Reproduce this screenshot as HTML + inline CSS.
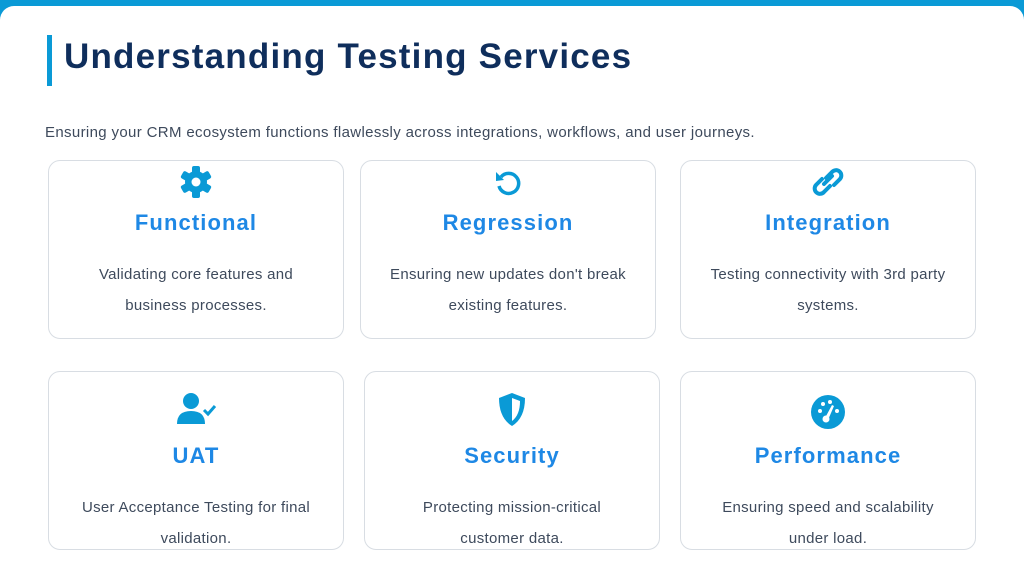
<!DOCTYPE html>
<html><head><style>
body{margin:0;width:1024px;height:576px;background:#0a9ad6;font-family:"Liberation Sans",sans-serif;overflow:hidden;position:relative}
.page{position:absolute;left:0;top:6px;width:1024px;height:570px;background:#fff;border-radius:14px 14px 0 0}
.bar{position:absolute;left:47px;top:29px;width:5px;height:51px;background:#0a9ad6}
h1{position:absolute;left:64px;top:31px;margin:0;font-size:35px;font-weight:bold;color:#0f2e5c;letter-spacing:1.2px}
.sub{position:absolute;left:45px;top:118px;font-size:15px;color:#3e4a5c;letter-spacing:0.35px}
.card{position:absolute;width:296px;height:179px;border:1px solid #d8dde3;border-radius:12px;background:#fff;text-align:center;box-sizing:border-box}
.card svg{position:absolute;left:50%;top:3px;transform:translateX(-50%)}
.t{position:absolute;left:0;right:0;top:49px;font-size:22px;font-weight:bold;color:#1e88e5;letter-spacing:1.1px}
.d{position:absolute;left:18px;right:18px;top:98px;font-size:15px;line-height:31px;color:#3e4a5c;letter-spacing:0.3px}
</style></head><body>
<div class="page">
<div class="bar"></div>
<h1>Understanding Testing Services</h1>
<div class="sub">Ensuring your CRM ecosystem functions flawlessly across integrations, workflows, and user journeys.</div>

<div class="card" style="left:48px;top:154px">
<svg width="36" height="36" viewBox="0 0 36 36"><g fill="#0a9ad6" transform="translate(18,18)"><circle r="11"/><rect x="-4" y="-16" width="8" height="32" rx="2"/><rect x="-4" y="-16" width="8" height="32" rx="2" transform="rotate(60)"/><rect x="-4" y="-16" width="8" height="32" rx="2" transform="rotate(120)"/></g><circle cx="18" cy="18" r="4.5" fill="#fff"/></svg>
<div class="t">Functional</div><div class="d">Validating core features and<br>business processes.</div></div>

<div class="card" style="left:360px;top:154px">
<svg width="36" height="36" viewBox="0 0 36 36"><path d="M11 13 A10 10 0 1 1 9 22" fill="none" stroke="#0a9ad6" stroke-width="3.5"/><path d="M6 8 L14 16 L6 17 Z" fill="#0a9ad6"/></svg>
<div class="t">Regression</div><div class="d">Ensuring new updates don't break<br>existing features.</div></div>

<div class="card" style="left:680px;top:154px">
<svg width="40" height="36" viewBox="0 0 40 36"><g fill="none" stroke="#0a9ad6" stroke-width="4" stroke-linecap="round"><path d="M18 14 L24 8 A5 5 0 0 1 32 15 L26 21"/><path d="M22 22 L16 28 A5 5 0 0 1 8 21 L14 15"/><path d="M16 20 L24 12"/></g></svg>
<div class="t">Integration</div><div class="d">Testing connectivity with 3rd party<br>systems.</div></div>

<div class="card" style="left:48px;top:365px">
<svg width="44" height="40" viewBox="0 0 44 40" style="top:18px"><circle cx="17" cy="11" r="8" fill="#0a9ad6"/><path d="M3 34 Q3 21 17 21 Q31 21 31 34 Z" fill="#0a9ad6"/><path d="M30 20 L34 24 L41 16" fill="none" stroke="#0a9ad6" stroke-width="3"/></svg>
<div class="t" style="top:71px">UAT</div><div class="d" style="top:120px">User Acceptance Testing for final<br>validation.</div></div>

<div class="card" style="left:364px;top:365px">
<svg width="36" height="40" viewBox="0 0 36 40" style="top:18px"><path d="M18 3 L31 8 Q31 28 18 36 Q5 28 5 8 Z" fill="#0a9ad6"/><path d="M18 8 L26 11 Q26 25 18 31 Z" fill="#fff"/></svg>
<div class="t" style="top:71px">Security</div><div class="d" style="top:120px">Protecting mission-critical<br>customer data.</div></div>

<div class="card" style="left:680px;top:365px">
<svg width="40" height="40" viewBox="0 0 40 40" style="top:20px"><circle cx="20" cy="20" r="17" fill="#0a9ad6"/><g fill="#fff"><circle cx="12" cy="19" r="2"/><circle cx="15" cy="12" r="2"/><circle cx="22" cy="10" r="2"/><circle cx="29" cy="19" r="2"/><circle cx="18" cy="27" r="3.5"/><path d="M17 26 L24 13 L26 14 L20 28 Z"/></g></svg>
<div class="t" style="top:71px">Performance</div><div class="d" style="top:120px">Ensuring speed and scalability<br>under load.</div></div>
</div>
</body></html>
